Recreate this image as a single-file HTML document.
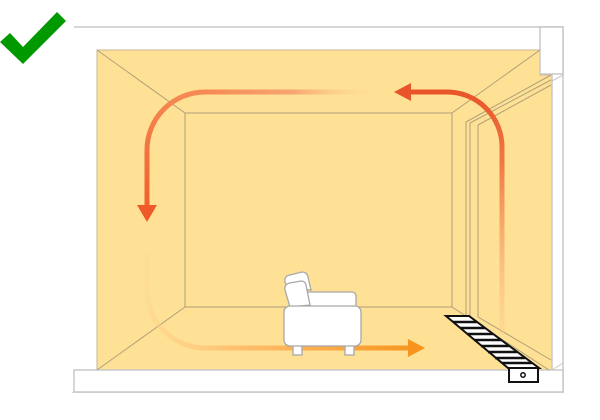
<!DOCTYPE html>
<html><head><style>html,body{margin:0;padding:0;background:#fff;width:600px;height:420px;overflow:hidden}</style></head>
<body>
<svg width="600" height="420" viewBox="0 0 600 420" xmlns="http://www.w3.org/2000/svg">
<defs>
<linearGradient id="gTop" gradientUnits="userSpaceOnUse" x1="205" y1="0" x2="382" y2="0"><stop offset="0" stop-color="#f58a55"/><stop offset="0.5" stop-color="#f8a570"/><stop offset="1" stop-color="#fee195" stop-opacity="0"/></linearGradient>
<linearGradient id="gLeft" gradientUnits="userSpaceOnUse" x1="0" y1="92" x2="0" y2="220"><stop offset="0" stop-color="#f58a55"/><stop offset="1" stop-color="#f05a28"/></linearGradient>
<linearGradient id="gRight" gradientUnits="userSpaceOnUse" x1="0" y1="92" x2="0" y2="335"><stop offset="0" stop-color="#e8552a"/><stop offset="0.3" stop-color="#f07a45"/><stop offset="1" stop-color="#fcc98a" stop-opacity="0.3"/></linearGradient>
<linearGradient id="gBot" gradientUnits="userSpaceOnUse" x1="147" y1="250" x2="420" y2="348"><stop offset="0" stop-color="#ffd590" stop-opacity="0.2"/><stop offset="0.4" stop-color="#ffc070"/><stop offset="1" stop-color="#f7941d"/></linearGradient>
</defs>
<path d="M74,27 H563 V74 H540 M552,81 L563,75 V392 H74 Z" fill="none" stroke="#c8c8c8" stroke-width="1.5"/>
<rect x="75" y="28" width="487" height="363" fill="#fff"/>
<path d="M97,50 H540 V75 H552 V370 H97 Z" fill="#fee195" stroke="#c8b890" stroke-width="1"/>
<rect x="540" y="27" width="23" height="47" fill="#fff" stroke="#c8c8c8" stroke-width="1.5"/>
<line x1="552" y1="75" x2="552" y2="370" stroke="#c8c8c8" stroke-width="1.5"/>
<line x1="552" y1="81" x2="563" y2="75" stroke="#c8c8c8" stroke-width="1"/>
<line x1="552" y1="370" x2="563" y2="363" stroke="#c8c8c8" stroke-width="1"/>
<rect x="74" y="370" width="489" height="22" fill="#fff" stroke="#c8c8c8" stroke-width="1.5"/>
<g stroke="#b0a07a" stroke-width="1" fill="none">
<rect x="185" y="113" width="267" height="194"/>
<line x1="97" y1="50" x2="185" y2="113"/>
<line x1="540" y1="50" x2="452" y2="113"/>
<line x1="97" y1="370" x2="185" y2="307"/>
<line x1="452" y1="307" x2="549" y2="370"/>
<line x1="551" y1="75" x2="466" y2="122"/>
<line x1="551" y1="80" x2="470" y2="123"/>
<line x1="551" y1="85" x2="478" y2="125"/>
<line x1="466" y1="122" x2="466" y2="315"/>
<line x1="470" y1="123" x2="470" y2="316"/>
<line x1="478" y1="125" x2="478" y2="317"/>
<line x1="478" y1="317" x2="551" y2="360"/>
</g>
<path d="M382,92 H205" fill="none" stroke="url(#gTop)" stroke-width="5"/>
<path d="M205.5,92 A58,58 0 0 0 147,150 V208" fill="none" stroke="url(#gLeft)" stroke-width="5"/>
<polygon points="137,205 157,205 147,222" fill="#f05a28"/>
<path d="M410,92 H447 A55,55 0 0 1 502,147 V335" fill="none" stroke="url(#gRight)" stroke-width="5"/>
<polygon points="394,92 411,83 411,101" fill="#e8552a"/>
<path d="M147,252 V290 A58,58 0 0 0 205,348 H412" fill="none" stroke="url(#gBot)" stroke-width="5"/>
<polygon points="425,348 408,339 408,357" fill="#f7941d"/>
<g stroke="#a8a8a8" stroke-width="1.3" fill="#fff">
<rect x="292" y="292" width="64" height="22" rx="4"/>
<path d="M287,287 L285,282 Q284,276 290,275 L302,272 Q307,272 308,277 L311,290 Z"/>
<path d="M285,290 Q284,284 290,283 L301,281 Q305,281 306,285 L310,305 L290,307 Z"/>
<rect x="293" y="343" width="9" height="12"/>
<rect x="345" y="343" width="9" height="12"/>
<rect x="284" y="306" width="77" height="40" rx="6"/>
</g>
<polygon points="446,316 469,316 539,368 508,368" fill="#fff" stroke="#111" stroke-width="2"/>
<g stroke="#111" stroke-width="2.5">
<line x1="453" y1="322" x2="477" y2="322"/>
<line x1="460" y1="328" x2="485" y2="328"/>
<line x1="467" y1="334" x2="493" y2="334"/>
<line x1="474" y1="340" x2="501" y2="340"/>
<line x1="481" y1="346" x2="509" y2="346"/>
<line x1="488" y1="352" x2="517" y2="352"/>
<line x1="495" y1="358" x2="525" y2="358"/>
<line x1="502" y1="363" x2="532" y2="363"/>
</g>
<rect x="509" y="368" width="29" height="14" fill="#fff" stroke="#111" stroke-width="2"/>
<circle cx="523" cy="375" r="2.2" fill="none" stroke="#111" stroke-width="1.5"/>
<polygon points="0,42 10,33 23,47 57,12 66,21 23,64" fill="#009900"/>
</svg>
</body></html>
